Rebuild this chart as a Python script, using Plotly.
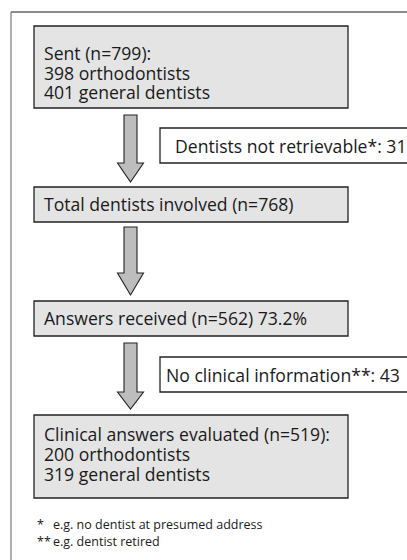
import plotly.graph_objects as go

# ---- data ----
stage_names = ["Sent", "Total dentists involved", "Answers received", "Clinical answers evaluated"]
stage_n = [799, 768, 562, 519]
stage_ortho = [398, None, None, 200]
stage_general = [401, None, None, 319]
response_rate = 73.2
exclusion_labels = ["Dentists not retrievable*", "No clinical information**"]
exclusion_n = [31, 43]
footnotes = ["*", "**"]
footnote_texts = ["e.g. no dentist at presumed address", "e.g. dentist retired"]

FONT = "Open Sans"
FS = 17.6
DARK = "#222222"
BOXFILL = "#e4e4e4"
ARROWFILL = "#bdbdbd"

fig = go.Figure()
shapes = []
ann = []

def add_text(x, y, t, size=FS):
    ann.append(dict(x=x, y=y, xref="x", yref="y", text=t, showarrow=False,
                    xanchor="left", yanchor="middle",
                    font=dict(family=FONT, size=size, color="#1a1a1a")))

# outer frame
shapes.append(dict(type="line", x0=11, x1=420, y0=12, y1=12, xref="x", yref="y",
                   line=dict(color="#1a1a1a", width=1.2)))
shapes.append(dict(type="line", x0=11, x1=11, y0=12, y1=580, xref="x", yref="y",
                   line=dict(color="#7a7a7a", width=1.2)))

# main boxes: (y0, y1, line centres)
box_geom = [(26, 108, [53, 73, 92]), (187, 222, [204]), (301, 336, [318]), (415, 498, [434, 454, 474])]
for i, (y0, y1, lines) in enumerate(box_geom):
    shapes.append(dict(type="rect", x0=34, x1=348, y0=y0, y1=y1, xref="x", yref="y",
                       fillcolor=BOXFILL, line=dict(color=DARK, width=1.3)))
    if i == 0 or i == 3:
        texts = [f"{stage_names[i]} (n={stage_n[i]}):",
                 f"{stage_ortho[i]} orthodontists",
                 f"{stage_general[i]} general dentists"]
    elif i == 2:
        texts = [f"{stage_names[i]} (n={stage_n[i]}) {response_rate}%"]
    else:
        texts = [f"{stage_names[i]} (n={stage_n[i]})"]
    for t, yc in zip(texts, lines):
        add_text(42, yc, t)

# arrows: (shaft top, head start, tip)
arrow_geom = [(115, 163, 182), (227, 273, 295), (343, 392, 409)]
for top, hs, tip in arrow_geom:
    path = (f"M 124 {top} L 137 {top} L 137 {hs} L 143.5 {hs} L 130.5 {tip} "
            f"L 117.5 {hs} L 124 {hs} Z")
    shapes.append(dict(type="path", path=path, xref="x", yref="y",
                       fillcolor=ARROWFILL, line=dict(color=DARK, width=1.1)))

# side boxes
side_geom = [(128, 163, 173), (357, 392, 164)]
for lab, n, (y0, y1, tx) in zip(exclusion_labels, exclusion_n, side_geom):
    shapes.append(dict(type="rect", x0=160, x1=430, y0=y0, y1=y1, xref="x", yref="y",
                       fillcolor="white", line=dict(color=DARK, width=1.3)))
    add_text(tx, (y0 + y1) / 2, f"{lab}: {n}")

# footnotes
for sym, t, yc, tx in zip(footnotes, footnote_texts, [524, 541], [51, 51]):
    add_text(35, yc, sym, size=12.5)
    add_text(tx, yc, t, size=12.5)

fig.update_layout(
    width=407, height=560,
    margin=dict(l=0, r=0, t=0, b=0),
    paper_bgcolor="white", plot_bgcolor="white",
    xaxis=dict(range=[0, 407], visible=False, fixedrange=True),
    yaxis=dict(range=[560, 0], visible=False, fixedrange=True),
    shapes=shapes, annotations=ann, showlegend=False,
)
fig.write_html("out.html", config={"displayModeBar": False},
               post_script="document.body.style.margin='0';document.body.style.overflow='hidden';")
